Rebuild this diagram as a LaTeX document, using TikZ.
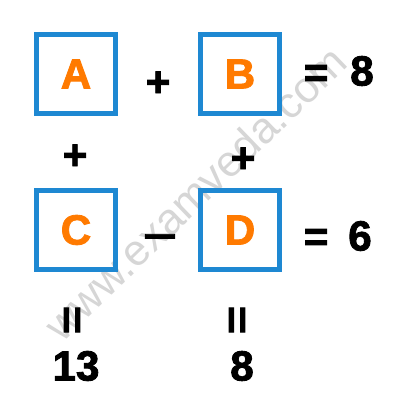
\documentclass[tikz,border=0pt]{standalone}
\usepackage{fontspec}
\setmainfont{Liberation Sans}
\newfontface\heavyfont{Liberation Sans Bold}[FakeBold=2]
\definecolor{boxblue}{HTML}{1E88D2}
\definecolor{letterorange}{HTML}{FF7A00}
\begin{document}
\begin{tikzpicture}[x=0.025cm,y=-0.025cm,
        letterbox/.style={draw=boxblue,line width=3.6pt,minimum size=1.975cm,inner sep=0pt,text=letterorange,font=\fontsize{30}{30}\heavyfont},
        sign/.style={inner sep=0pt,font=\fontsize{30}{30}\heavyfont}]
    \fill[white] (0,0) rectangle (400,400);
    % watermark
    \node[text=black!16,rotate=44,font=\fontsize{31}{31}\selectfont] (mark) at (195,193) {www.examveda.com};
    % boxes
    \node[letterbox] (A) at (76,74) {A};
    \node[letterbox] (B) at (240,74) {B};
    \node[letterbox] (C) at (76,230) {C};
    \node[letterbox] (D) at (240,230) {D};
    % row signs
    \node[sign] (plusAB) at (158,84) {+};
    \node[sign] (eqB) at (316,76) {=};
    \node[sign] (sumB) at (362,71) {8};
    \node[sign,xscale=1.4] (minusCD) at (160,241) {\textendash};
    \node[sign] (eqD) at (316,240) {=};
    \node[sign] (sumD) at (360,236) {6};
    % column signs
    \node[sign] (plusAC) at (75,157) {+};
    \node[sign] (plusBD) at (243,160) {+};
    \node[sign,rotate=90,xscale=1.15] (eqC) at (75,320) {=};
    \node[sign,rotate=90,xscale=1.15] (eqDcol) at (240,320) {=};
    \node[sign] (sumC) at (76,366) {13};
    \node[sign] (sumDcol) at (242,366) {8};
\end{tikzpicture}
\end{document}
